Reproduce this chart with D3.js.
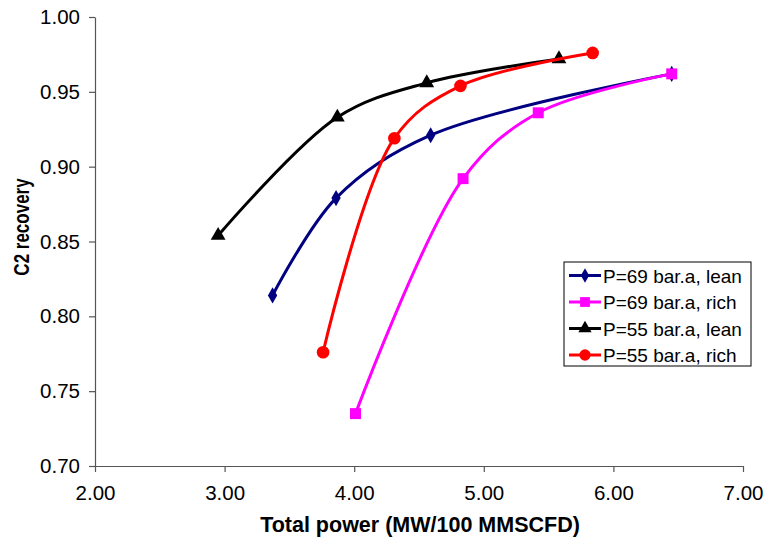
<!DOCTYPE html>
<html>
<head>
<meta charset="utf-8">
<script src="https://cdn.jsdelivr.net/npm/d3@7"></script>
<style>
  body { margin: 0; background: #fff; }
  svg { display: block; font-family: Arial, "Liberation Sans", sans-serif; }
  .axis path, .axis line { stroke: #555; stroke-width: 1.2; }
  .axis text { font-size: 20.5px; fill: #000; }
</style>
</head>
<body>
<svg id="chart"></svg>
<script>
// Data
const seriesNames = ['P=69 bar.a, lean', 'P=69 bar.a, rich', 'P=55 bar.a, lean', 'P=55 bar.a, rich'];
const lean69Power = [3.37, 3.86, 4.59, 6.45];
const lean69Rec = [0.814, 0.879, 0.921, 0.962];
const rich69Power = [4.01, 4.84, 5.42, 6.45];
const rich69Rec = [0.735, 0.892, 0.936, 0.962];
const lean55Power = [2.95, 3.87, 4.56, 5.58];
const lean55Rec = [0.854, 0.933, 0.956, 0.972];
const rich55Power = [3.76, 4.31, 4.82, 5.84];
const rich55Rec = [0.776, 0.919, 0.954, 0.976];
const xTicks = [2, 3, 4, 5, 6, 7];
const yTicks = [0.70, 0.75, 0.80, 0.85, 0.90, 0.95, 1.00];

const width = 765;
const height = 543;

// series styling
const styles = [
  { color: '#000080', shape: d3.symbolDiamond, size: 75 },
  { color: '#ff00ff', shape: d3.symbolSquare, size: 120 },
  { color: '#000000', shape: d3.symbolTriangle, size: 95 },
  { color: '#ff0000', shape: d3.symbolCircle, size: 125 }
];

const series = [
  [lean69Power, lean69Rec],
  [rich69Power, rich69Rec],
  [lean55Power, lean55Rec],
  [rich55Power, rich55Rec]
].map((s, i) => ({
  name: seriesNames[i],
  style: styles[i],
  points: s[0].map((x, j) => ({ x: x, y: s[1][j] }))
}));

const chart = d3.select('#chart')
  .attr('width', width)
  .attr('height', height);

// Scales
const xScale = d3.scaleLinear().domain([2, 7]).range([95, 743]);
const yScale = d3.scaleLinear().domain([0.70, 1.00]).range([466, 17]);

// Axes
chart.append('g')
  .attr('class', 'axis')
  .attr('transform', `translate(0, ${yScale(0.70)})`)
  .call(d3.axisBottom(xScale).tickValues(xTicks).tickSize(6).tickSizeOuter(0).tickPadding(13)
    .tickFormat(d3.format('.2f')));

chart.append('g')
  .attr('class', 'axis')
  .attr('transform', `translate(${xScale(2)}, 0)`)
  .call(d3.axisLeft(yScale).tickValues(yTicks).tickSize(6).tickSizeOuter(0).tickPadding(9)
    .tickFormat(d3.format('.2f')));

// line generator, smoothed like the spreadsheet
const line = d3.line()
  .x(d => xScale(d.x))
  .y(d => yScale(d.y))
  .curve(d3.curveCatmullRom.alpha(0.5));

series.forEach(s => {
  const g = chart.append('g');
  g.append('path')
    .datum(s.points)
    .attr('fill', 'none')
    .attr('stroke', s.style.color)
    .attr('stroke-width', 3)
    .attr('d', line);

  g.selectAll('path.mark')
    .data(s.points)
    .enter()
    .append('path')
    .attr('class', 'mark')
    .attr('transform', d => `translate(${xScale(d.x)}, ${yScale(d.y)})`)
    .attr('d', d3.symbol().type(s.style.shape).size(s.style.size))
    .attr('fill', s.style.color);
});

// Axis Labels
chart.append('text')
  .attr('x', 420)
  .attr('y', 532)
  .attr('text-anchor', 'middle')
  .style('font-weight', 'bold')
  .style('font-size', '21.5px')
  .text('Total power (MW/100 MMSCFD)');

// y title looks stretched sideways in the original, so scale it a bit
chart.append('text')
  .attr('transform', 'translate(29, 227) scale(1.3, 1) rotate(-90)')
  .attr('text-anchor', 'middle')
  .style('font-weight', 'bold')
  .style('font-size', '17px')
  .text('C2 recovery');

// Legend
const legend = chart.append('g').attr('transform', 'translate(564, 262)');
legend.append('rect')
  .attr('width', 187)
  .attr('height', 104)
  .attr('fill', '#fff')
  .attr('stroke', '#000')
  .attr('stroke-width', 1);

series.forEach((s, i) => {
  const y = 13.5 + i * 26.5;
  legend.append('line')
    .attr('x1', 5).attr('x2', 37)
    .attr('y1', y).attr('y2', y)
    .attr('stroke', s.style.color)
    .attr('stroke-width', 3);
  legend.append('path')
    .attr('transform', `translate(21, ${y})`)
    .attr('d', d3.symbol().type(s.style.shape).size(s.style.size * 0.8))
    .attr('fill', s.style.color);
  legend.append('text')
    .attr('x', 39)
    .attr('y', y + 7)
    .style('font-size', '19px')
    .text(s.name);
});
</script>
</body>
</html>
